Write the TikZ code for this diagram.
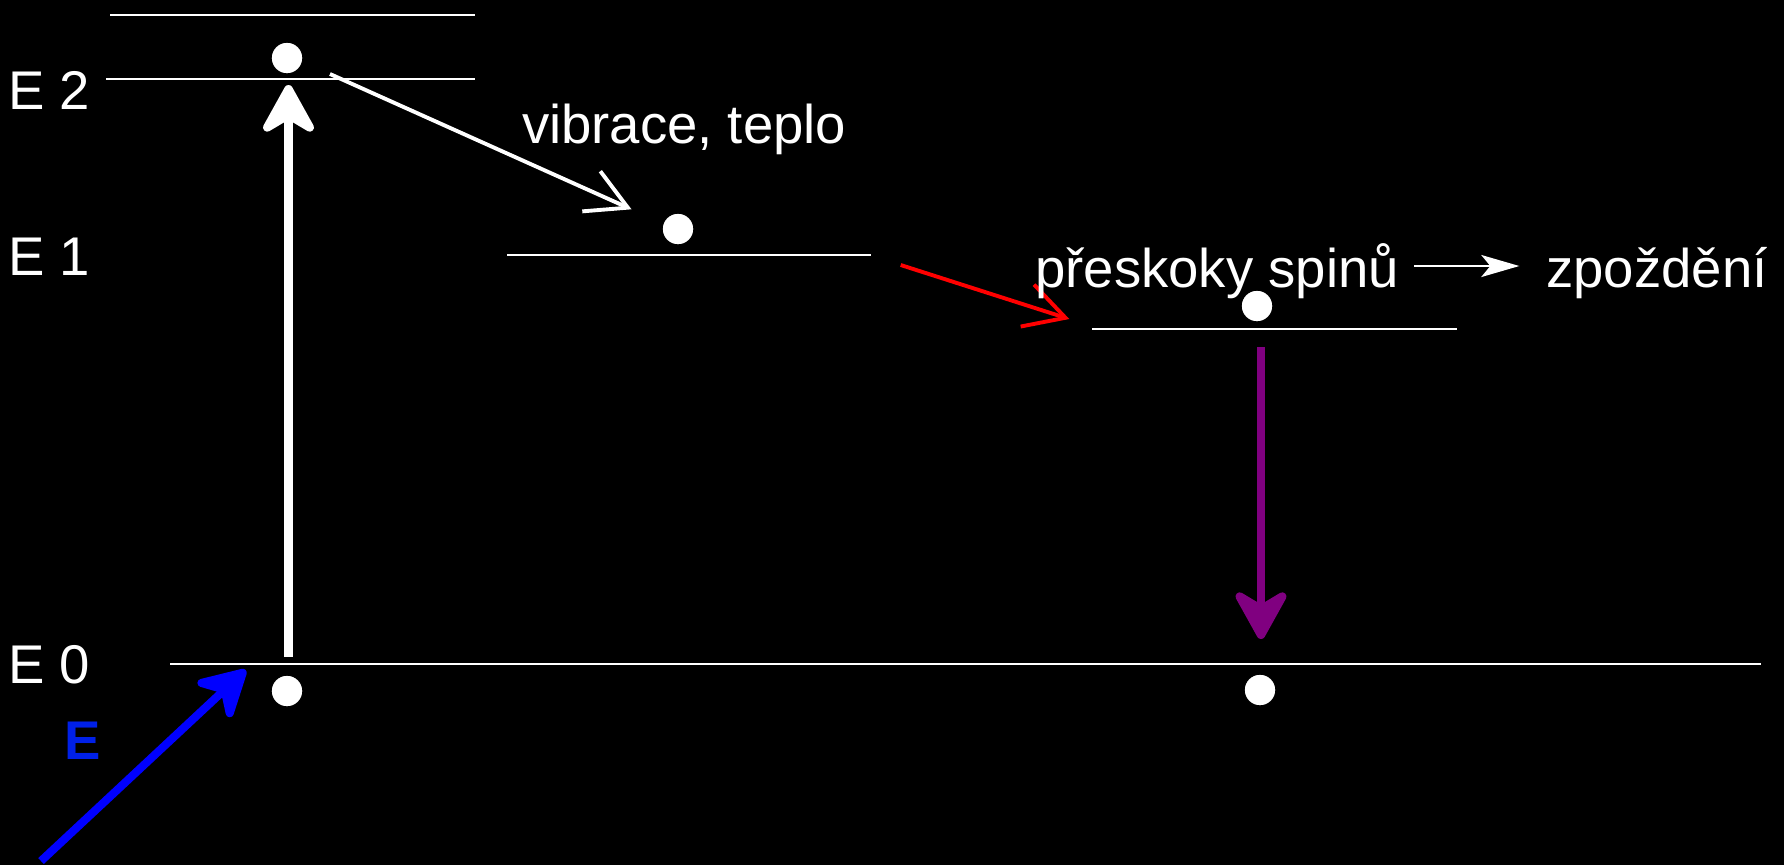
\documentclass[tikz,border=0pt]{standalone}
\usepackage{fontspec}
\setmainfont{Liberation Sans}
\usetikzlibrary{arrows.meta}
\definecolor{fialova}{RGB}{128,0,128}
\definecolor{modra}{RGB}{0,0,255}
\definecolor{modraE}{RGB}{0,32,232}

\begin{document}
\begin{tikzpicture}[x=0.01cm, y=-0.01cm,
  hladina/.style={white, line width=0.6pt},
  kulicka/.style={circle, fill=white, draw=black, line width=0.4pt, inner sep=0pt, minimum size=0.32cm},
  popis/.style={white, inner sep=0pt, anchor=base west, font=\fontsize{15.5}{18}\selectfont},
  prechod/.style={-{Straight Barb[length=0.4cm, width=0.44cm]}, line width=1.1pt},
  sipka/.style={-{Stealth[length=0.58cm, width=0.64cm, round]}, line width=2.4pt}]
  \fill[black] (0,0) rectangle (1784,865);

     % Hladiny
  \draw[hladina] (110,15) -- (475,15);
  \draw[hladina] (106,79) -- (475,79);
  \draw[hladina] (507,255) -- (871,255);
  \draw[hladina] (1092,329) -- (1457,329);
  \draw[hladina] (170,664) -- (1761,664);

  \node[popis] (e2) at (7.7,109) {E 2};
  \node[popis] (e1) at (7.7,275) {E 1};
  \node[popis] (e0) at (7.7,683) {E 0};

     % Elektrony
  \node[kulicka] (k2) at (287,58) {};
  \node[kulicka] (k1) at (678,229) {};
  \node[kulicka] (ks) at (1257,306) {};
  \node[kulicka] (k0) at (287,691) {};
  \node[kulicka] (k0b) at (1260,690) {};

     % Prechody
  \coordinate (a1) at (288.5,656.5);
  \coordinate (a2) at (288.5,85);
  \draw[sipka, white] (a1) -- (a2);

  \coordinate (b1) at (330,74);
  \coordinate (b2) at (631.5,209.3);
  \draw[prechod, white] (b1) -- (b2);
  \node[popis] (vib) at (521.3,143.3) {vibrace, teplo};

  \coordinate (c1) at (900.7,265);
  \coordinate (c2) at (1069.3,319);
  \draw[prechod, red] (c1) -- (c2);
  \node[popis] (spin) at (1034.7,287.3) {přeskoky spinů};
  \node[popis] (zpo) at (1545.6,287.3) {zpoždění};
  \coordinate (s1) at (1414.3,266);
  \coordinate (s2) at (1519.3,266);
  \draw[white, line width=0.6pt, -{Stealth[length=0.38cm, width=0.22cm, inset=0.09cm]}] (s1) -- (s2);

  \coordinate (p1) at (1261,347);
  \coordinate (p2) at (1261,639);
  \draw[sipka, fialova] (p1) -- (p2);

     % Energie
  \coordinate (m1) at (41,861);
  \coordinate (m2) at (245.7,670);
  \draw[sipka, modra, line width=2.3pt, -{Stealth[length=0.56cm, width=0.62cm, round]}] (m1) -- (m2);
  \node[popis, modraE, font=\fontsize{15.5}{18}\selectfont\bfseries] (en) at (63.7,759.3) {E};

\end{tikzpicture}
\end{document}
